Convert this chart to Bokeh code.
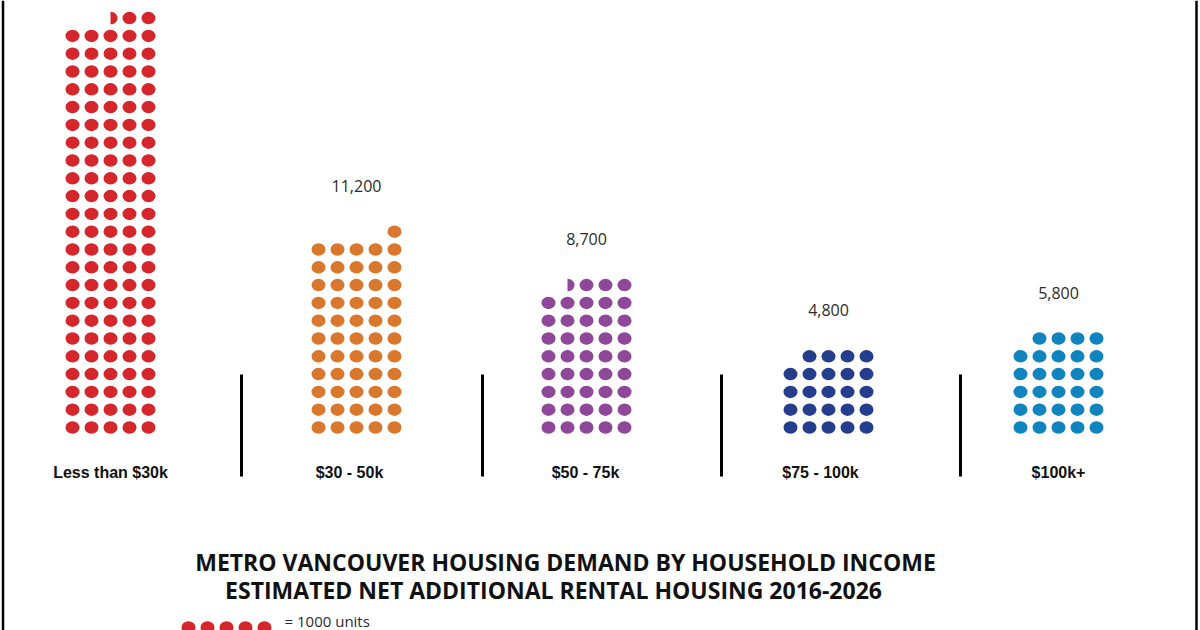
import numpy as np
from bokeh.plotting import figure
from bokeh.models import Range1d, ColumnDataSource
from bokeh.core.properties import value
from bokeh.embed import file_html
from bokeh.resources import INLINE

# ---------------- data ----------------
categories = ["Less than $30k", "$30 - 50k", "$50 - 75k", "$75 - 100k", "$100k+"]
units = [23500, 11200, 8700, 4800, 5800]
value_labels = ["23,500", "11,200", "8,700", "4,800", "5,800"]
colors = ["#d5262c", "#d9772d", "#8e4799", "#243d8c", "#1084bf"]
units_per_dot = 200
legend_units = 1000
legend_text = "= 1000 units"
title_lines = [
    "METRO VANCOUVER HOUSING DEMAND BY HOUSEHOLD INCOME",
    "ESTIMATED NET ADDITIONAL RENTAL HOUSING  2016-2026",
]

# ---------------- layout ----------------
W, H = 1200, 630
col_cx = [110, 356, 586, 828, 1058]
label_x = [110, 349, 585, 820, 1058]
sep_x = [241, 482, 721, 960]
sep_y0, sep_y1 = 374, 476
dots_per_row = 5
dx, dy = 19, 17.8
base_y = 427
dot_w, dot_h = 14, 12.5
label_y = 472
value_gap = 46
title_x = [565, 556]
title_y = [561, 589]
legend_x0, legend_y = 188, 627
legend_text_x, legend_text_y = 284, 620

p = figure(width=W, height=H, x_range=Range1d(0, W), y_range=Range1d(H, 0),
           output_backend="svg", toolbar_location=None, min_border=0,
           x_axis_location=None, y_axis_location=None)
p.grid.visible = False
p.outline_line_color = None
p.background_fill_color = "white"
p.border_fill_color = "white"

full_x, full_y, full_c = [], [], []
half_xs, half_ys, half_c = [], [], []
val_x, val_y, val_t = [], [], []
t = np.linspace(-np.pi / 2, np.pi / 2, 40)

for cx, u, col, lab in zip(col_cx, units, colors, value_labels):
    n = u / units_per_dot
    full = int(np.floor(n))
    has_half = (n - full) > 1e-9
    rows_full = full // dots_per_row
    rem = full % dots_per_row
    offsets = [(i - (dots_per_row - 1) / 2) * dx for i in range(dots_per_row)]
    for r in range(rows_full):
        y = base_y - r * dy
        for o in offsets:
            full_x.append(cx + o); full_y.append(y); full_c.append(col)
    top_rows = rows_full
    if rem or has_half:
        y = base_y - rows_full * dy
        for i in range(dots_per_row - rem, dots_per_row):
            full_x.append(cx + offsets[i]); full_y.append(y); full_c.append(col)
        if has_half:
            hx = cx + offsets[dots_per_row - rem - 1]
            half_xs.append(list(hx + dot_w / 2 * np.cos(t)))
            half_ys.append(list(y + dot_h / 2 * np.sin(t)))
            half_c.append(col)
    else:
        top_rows = rows_full - 1
    ly = base_y - top_rows * dy - value_gap
    if ly > 10:  # label of the tallest column lies above the cropped picture
        val_x.append(cx); val_y.append(ly); val_t.append(lab)

p.ellipse(x="x", y="y", width=dot_w, height=dot_h, fill_color="c", line_color=None,
          source=ColumnDataSource(dict(x=full_x, y=full_y, c=full_c)))
p.patches(xs="xs", ys="ys", fill_color="c", line_color=None,
          source=ColumnDataSource(dict(xs=half_xs, ys=half_ys, c=half_c)))

# value labels
p.text(x=val_x, y=val_y, text=val_t, text_align="center", text_baseline="middle",
       text_font=value("Open Sans"), text_font_size="16px", text_color="#2b2b2b")

# category labels
p.text(x=label_x, y=[label_y] * len(categories), text=categories, text_align="center",
       text_baseline="middle", text_font=value("Liberation Sans"), text_font_style="bold",
       text_font_size="16px", text_color="#111111")

# separators
p.segment(x0=sep_x, y0=[sep_y0] * len(sep_x), x1=sep_x, y1=[sep_y1] * len(sep_x),
          line_width=3, line_color="black")

# frame
p.segment(x0=[2.5, 1196], y0=[0, 0], x1=[2.5, 1196], y1=[H, H], line_width=2.5, line_color="black")

# title
p.text(x=title_x, y=title_y, text=title_lines, text_align="center", text_baseline="middle",
       text_font=value("Open Sans"), text_font_style="bold", text_font_size="23px",
       text_color="#111111")

# legend
n_leg = legend_units // units_per_dot
p.ellipse(x=[legend_x0 + i * dx for i in range(n_leg)], y=[legend_y] * n_leg,
          width=dot_w, height=dot_h, fill_color=colors[0], line_color=None)
p.text(x=[legend_text_x], y=[legend_text_y], text=[legend_text], text_align="left",
       text_baseline="middle", text_font=value("Open Sans"), text_font_size="15px",
       text_color="#2b2b2b")

open("out.html", "w").write(file_html(p, INLINE))
